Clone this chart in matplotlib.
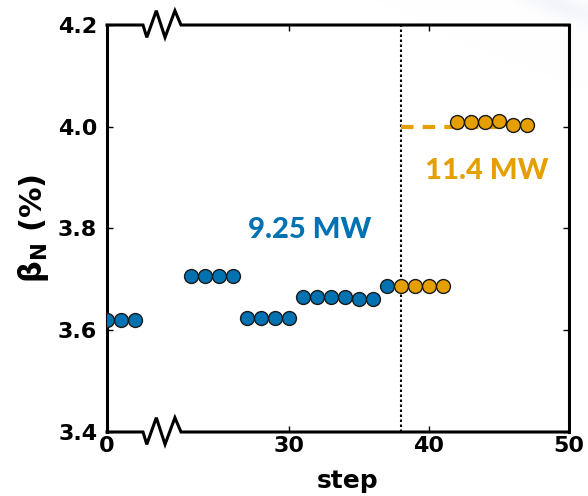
import numpy as np
import matplotlib
matplotlib.use("Agg")
import matplotlib.pyplot as plt

# beta_N per step at the two heating powers
blue_steps = [0, 1, 2, 23, 24, 25, 26, 27, 28, 29, 30, 31, 32, 33, 34, 35, 36, 37]
blue_beta = [3.620, 3.620, 3.620, 3.707, 3.707, 3.707, 3.707, 3.625, 3.625, 3.625, 3.625,
             3.665, 3.665, 3.665, 3.665, 3.662, 3.662, 3.687]
orange_steps = [38, 39, 40, 41, 42, 43, 44, 45, 46, 47]
orange_beta = [3.687, 3.687, 3.687, 3.687, 4.010, 4.010, 4.010, 4.011, 4.004, 4.003]

target_steps = [38, 45]
target_beta = [4.0, 4.0]
switch_step = 38

xtick_steps = [0, 30, 40, 50]
ytick_vals = [3.4, 3.6, 3.8, 4.0, 4.2]

label_blue = "9.25 MW"
label_orange = "11.4 MW"

BLUE = "#0072B2"
ORANGE = "#E69F00"

# the step axis skips the empty stretch between the first points and step 20
GAP = 17


def squeeze(s):
    s = np.asarray(s, dtype=float)
    return np.where(s >= 20, s - GAP, s)


fig = plt.figure(figsize=(5.88, 4.96), dpi=100)

# faint bluish streak in the top-right corner of the slide background
bg = fig.add_axes([0, 0, 1, 1], zorder=-10)
bg.set_axis_off()
yy, xx = np.mgrid[0:496, 0:588]
u = (xx - 560) * np.cos(0.35) + (yy - 5) * np.sin(0.35)
v = -(xx - 560) * np.sin(0.35) + (yy - 5) * np.cos(0.35)
glow = np.exp(-(u / 55.0) ** 2 - (v / 12.0) ** 2) * 0.18
rgb = np.ones((496, 588, 3))
tint = np.array([0.72, 0.78, 0.92])
rgb = rgb * (1 - glow[..., None]) + tint * glow[..., None]
bg.imshow(rgb, extent=[0, 1, 0, 1], aspect="auto", interpolation="bilinear")

ax = fig.add_axes([107 / 588, 1 - 432 / 496, 462 / 588, 407 / 496])
ax.patch.set_alpha(0)

ax.set_xlim(0, squeeze(50))
ax.set_ylim(3.4, 4.2)

ax.axvline(squeeze(switch_step), color="black", ls=(0, (1.2, 1.2)), lw=1.5, zorder=1)
ax.plot(squeeze(target_steps), target_beta, color=ORANGE, ls=(0, (3, 2.2)), lw=3, zorder=2)

mk = dict(ls="none", marker="o", ms=10, mec="#1a1a1a", mew=1.0, zorder=3)
ax.plot(squeeze(blue_steps), blue_beta, mfc=BLUE, **mk)
ax.plot(squeeze(orange_steps), orange_beta, mfc=ORANGE, **mk)

ax.set_xticks(squeeze(xtick_steps))
ax.set_xticklabels([str(s) for s in xtick_steps])
ax.set_yticks(ytick_vals)
ax.set_yticklabels([f"{v:.1f}" for v in ytick_vals])
ax.tick_params(direction="in", length=4, width=1, top=True, right=True,
               labelsize=16, pad=4)
for lab in ax.get_xticklabels() + ax.get_yticklabels():
    lab.set_fontweight("bold")
ax.tick_params(axis="y", pad=7)
ax.tick_params(axis="x", pad=3)

for side in ("left", "right"):
    ax.spines[side].set_linewidth(2.2)
for side in ("top", "bottom"):
    ax.spines[side].set_visible(False)

# top and bottom frame lines with a zigzag marking the axis break
x0 = (143 - 107) / 462
x1 = (181 - 107) / 462
dx = (x1 - x0)
h = 13 / 407
zx = [0, x0, x0 + 0.1 * dx, x0 + 0.35 * dx, x0 + 0.58 * dx, x0 + 0.84 * dx, x1, 1]
for yb in (1.0, 0.0):
    zy = [yb, yb, yb - h * 0.95, yb + h * 1.1, yb - h * 0.95, yb + h * 1.1, yb, yb]
    ax.plot(zx, zy, transform=ax.transAxes, color="black", lw=2.2,
            clip_on=False, solid_joinstyle="miter", zorder=5)

ax.set_ylabel(r"$\mathbf{\beta_N}$ (%)", fontsize=22, fontweight="bold", labelpad=5)
ax.set_xlabel("step", fontsize=18, fontweight="bold")
ax.xaxis.set_label_coords((348 - 107) / 462, (432 - 488) / 407)
ax.xaxis.label.set_verticalalignment("baseline")

ax.text(squeeze(31.46), 3.782, label_blue, color=BLUE, fontsize=21, fontweight="black",
        family="Lato", ha="center", va="baseline")
ax.text(squeeze(44.1), 3.898, label_orange, color=ORANGE, fontsize=21, fontweight="black",
        family="Lato", ha="center", va="baseline")

fig.savefig("out.png", dpi=100)
